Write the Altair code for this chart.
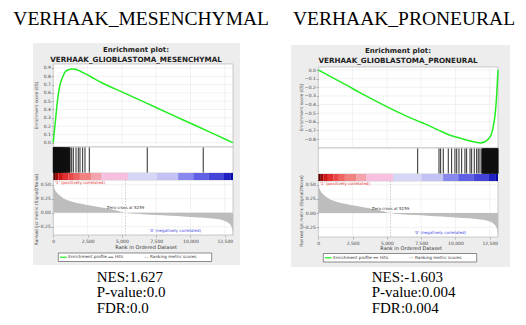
import altair as alt
import pandas as pd

# ---------------- data ----------------
HEADERS = ["VERHAAK_MESENCHYMAL", "VERHAAK_PRONEURAL"]
PLOT_TITLES = ["VERHAAK_GLIOBLASTOMA_MESENCHYMAL", "VERHAAK_GLIOBLASTOMA_PRONEURAL"]
STATS = [["NES:1.627", "P-value:0.0", "FDR:0.0"],
         ["NES:-1.603", "P-value:0.004", "FDR:0.004"]]

N_GENES = 13100
ZERO_CROSS = 5259

MES_RANK = [0, 30, 70, 124, 200, 280, 365, 480, 610, 730, 853, 1000, 1150, 1340, 1600,
            2000, 2675, 3500, 5000, 6800, 8500, 10000, 11500, 12500, 13100]
MES_ES = [0.0, 0.06, 0.13, 0.21, 0.34, 0.47, 0.58, 0.69, 0.76, 0.81, 0.85, 0.87, 0.882, 0.888,
          0.884, 0.858, 0.80, 0.725, 0.612, 0.476, 0.347, 0.234, 0.121, 0.045, 0.0]

PN_RANK = [0, 1000, 2000, 3000, 4130, 5500, 6500, 7245, 7770, 8800, 9500, 10450, 11000,
           11500, 11800, 12100, 12390, 12600, 12750, 12900, 13000, 13100]
PN_ES = [0.0, -0.085, -0.17, -0.26, -0.355, -0.465, -0.54, -0.59, -0.625, -0.70, -0.75, -0.795,
         -0.82, -0.837, -0.845, -0.835, -0.80, -0.75, -0.66, -0.50, -0.30, 0.0]

MES_HITS = [0, 12, 25, 38, 48, 60, 70, 82, 95, 105, 118, 128, 140, 150, 160, 170, 182, 195,
            205, 215, 225, 238, 250, 262, 275, 290, 305, 318, 330, 342, 355, 372, 385, 395,
            410, 425, 440, 452, 465, 478, 490, 503, 515, 528, 540, 555, 570, 585, 600, 612,
            625, 640, 655, 672, 690, 705, 720, 735, 750, 770, 790, 810, 830, 850, 870, 888,
            905, 928, 950, 970, 990, 1010, 1030, 1055, 1080, 1105, 1130, 1155, 1180, 1200, 1215,
            1340, 1460, 1655, 1820, 1945, 2140, 2310, 2625, 6850, 10930]
PN_HITS = [7245, 8800, 8920, 9110, 9475, 9720, 9960, 10090, 10255, 10450, 10690, 10815,
           11060, 11180, 11370, 11545, 11660, 11785, 11910, 11960, 11985, 12000, 12020, 12040,
           12060, 12075, 12095, 12110, 12130, 12150, 12170, 12185, 12205, 12220, 12240, 12260,
           12280, 12300, 12315, 12330, 12350, 12370, 12385, 12400, 12420, 12440, 12460, 12480,
           12495, 12510, 12530, 12550, 12570, 12590, 12605, 12620, 12640, 12660, 12680, 12700,
           12715, 12730, 12750, 12770, 12785, 12800, 12820, 12840, 12855, 12870, 12890, 12910,
           12925, 12940, 12960, 12980, 12995, 13010, 13025, 13040, 13055, 13070, 13085, 13095]

METRIC_RANK = [0, 40, 120, 250, 450, 730, 1200, 1950, 2800, 3600, 4400, 5259, 6000, 7000,
               8000, 9000, 10000, 11000, 11800, 12400, 12800, 13000, 13080, 13100]
METRIC_VAL = [0.58, 0.48, 0.41, 0.36, 0.31, 0.26, 0.21, 0.165, 0.125, 0.09, 0.055, 0.0,
              -0.02, -0.035, -0.045, -0.06, -0.075, -0.09, -0.11, -0.14, -0.19, -0.26,
              -0.35, -0.40]

BAR_START = [0, 180, 365, 700, 1090, 1500, 1940, 2790, 3520, 5460, 7530, 9100, 10200, 11300, 12390, 12900]
BAR_END = [180, 365, 700, 1090, 1500, 1940, 2790, 3520, 5460, 7530, 9100, 10200, 11300, 12390, 12900, 13100]

X_TICKS = [0, 2500, 5000, 7500, 10000, 12500]
MES_ES_TICKS = [0.0, 0.1, 0.2, 0.3, 0.4, 0.5, 0.6, 0.7, 0.8, 0.9]
PN_ES_TICKS = [0.0, -0.1, -0.2, -0.3, -0.4, -0.5, -0.6, -0.7, -0.8]
METRIC_TICKS = [0.5, 0.25, 0.0, -0.25]

# ---------------- styles / layout ----------------
BAR_COLORS = ["#5c0000", "#a00808", "#cc1818", "#e23030", "#ea4848", "#ee6262", "#f08282",
              "#f4a2ac", "#f6c0de", "#d6d6f6", "#c2c2f4", "#8888ee", "#6060e6", "#4444d8",
              "#2020c4", "#0606a8"]
GREEN = "#22ee22"
SANS = "DejaVu Sans"
SERIF = "Liberation Serif"

W, H = 510, 309
OFF = 8.0


def P(v):
    return v - OFF


def V(v):
    return alt.value(P(v))


PANELS = [
    dict(bg=(33, 43, 240, 265), x0=53.3, x1=233.0,
         es=(64, 147), es_dom=(-0.052, 0.948), es_ticks=MES_ES_TICKS,
         hits=(147, 173), bar=(173, 180),
         met=(180, 235), met_dom=(-0.398, 0.584),
         title_x=136, title_y=(49.5, 59.5), ytitle_x=37, xtitle_y=246.5,
         legend=(58.3, 253, 211.7, 261.5),
         rank=MES_RANK, es_val=MES_ES, hits_list=MES_HITS,
         header_x=13.3, stats_x=96.7),
    dict(bg=(291, 45, 510, 267), x0=318.3, x1=498.0,
         es=(67, 148), es_dom=(-0.904, 0.035), es_ticks=PN_ES_TICKS,
         hits=(148, 174), bar=(174, 181),
         met=(181, 237), met_dom=(-0.42, 0.565),
         title_x=398, title_y=(50.5, 60.5), ytitle_x=302, xtitle_y=248,
         legend=(323.3, 253.5, 476.7, 262),
         rank=PN_RANK, es_val=PN_ES, hits_list=PN_HITS,
         header_x=293, stats_x=371.7),
]

AX = dict(labelFontSize=4.5, labelFont=SANS, labelColor="#444", tickSize=2,
          tickColor="#777", tickWidth=0.5, domain=False, grid=False, labelPadding=1,
          labelOverlap=False, labelFlush=False, zindex=1, title=None)

ONE = pd.DataFrame({"k": [0]})


def text_layer(text, x, y, size, color="#000", font=SANS, weight="normal",
               align="center", baseline="middle", angle=None):
    kw = dict(text=text, fontSize=size, color=color, font=font, fontWeight=weight,
              align=align, baseline=baseline)
    if angle is not None:
        kw["angle"] = angle
    return alt.Chart(ONE).mark_text(**kw).encode(x=V(x), y=V(y))


def box(x0, y0, x1, y1, fill, stroke=None, sw=0.5):
    kw = dict(fill=fill)
    if stroke:
        kw.update(stroke=stroke, strokeWidth=sw)
    return alt.Chart(ONE).mark_rect(**kw).encode(x=V(x0), x2=V(x1), y=V(y0), y2=V(y1))


def hline(x0, x1, y, color, sw):
    return alt.Chart(ONE).mark_rule(color=color, strokeWidth=sw).encode(
        x=V(x0), x2=V(x1), y=V(y))


layers = []

for i, p in enumerate(PANELS):
    xs = alt.Scale(domain=[0, N_GENES], range=[P(p["x0"]), P(p["x1"])], nice=False, zero=False)
    es_y = alt.Scale(domain=list(p["es_dom"]), range=[P(p["es"][1]), P(p["es"][0])],
                     nice=False, zero=False)
    met_y = alt.Scale(domain=list(p["met_dom"]), range=[P(p["met"][1]), P(p["met"][0])],
                      nice=False, zero=False)
    x0, x1 = p["x0"], p["x1"]

    # header above and stats below (document text)
    layers.append(text_layer(HEADERS[i], p["header_x"], 25, 19.5, font=SERIF,
                             align="left", baseline="alphabetic"))
    for j, line in enumerate(STATS[i]):
        layers.append(text_layer(line, p["stats_x"], 281.5 + 15.5 * j, 15, font=SERIF,
                                 align="left", baseline="alphabetic"))

    # gray background
    bx0, by0, bx1, by1 = p["bg"]
    layers.append(box(bx0, by0, bx1, by1, "#ededed"))

    # panel frames
    layers.append(box(x0, p["es"][0], x1, p["es"][1], "#ffffff", "#9a9a9a"))
    layers.append(box(x0, p["hits"][0], x1, p["hits"][1], "#ffffff", "#9a9a9a"))
    layers.append(box(x0, p["met"][0], x1, p["met"][1], "#ffffff", "#9a9a9a"))

    # gridlines ES panel
    xt = pd.DataFrame({"r": X_TICKS[1:]})
    layers.append(alt.Chart(xt).mark_rule(color="#e4e4e4", strokeWidth=0.5).encode(
        x=alt.X("r:Q", scale=xs, axis=None), y=V(p["es"][0]), y2=V(p["es"][1])))
    et = pd.DataFrame({"v": p["es_ticks"]})
    layers.append(alt.Chart(et).mark_rule(color="#e4e4e4", strokeWidth=0.5).encode(
        y=alt.Y("v:Q", scale=es_y, axis=None), x=V(x0), x2=V(x1)))
    # gridlines metric panel
    layers.append(alt.Chart(xt).mark_rule(color="#e4e4e4", strokeWidth=0.5).encode(
        x=alt.X("r:Q", scale=xs, axis=None), y=V(p["met"][0]), y2=V(p["met"][1])))
    mt = pd.DataFrame({"v": METRIC_TICKS})
    layers.append(alt.Chart(mt).mark_rule(color="#e4e4e4", strokeWidth=0.5).encode(
        y=alt.Y("v:Q", scale=met_y, axis=None), x=V(x0), x2=V(x1)))

    # metric area with axes
    md = pd.DataFrame({"r": METRIC_RANK, "v": METRIC_VAL})
    layers.append(alt.Chart(md).mark_area(color="#bdbdbd", interpolate="monotone").encode(
        x=alt.X("r:Q", scale=xs,
                axis=alt.Axis(orient="bottom", offset=P(p["met"][1]) - H,
                              values=X_TICKS, format=",d", **AX)),
        y=alt.Y("v:Q", scale=met_y, stack=False,
                axis=alt.Axis(orient="left", offset=-P(x0), values=METRIC_TICKS,
                              format=".2f", **AX)),
        y2=alt.datum(0)))

    # zero-cross dashed line
    zc = pd.DataFrame({"r": [ZERO_CROSS]})
    layers.append(alt.Chart(zc).mark_rule(color="#999", strokeWidth=0.5,
                                          strokeDash=[1.5, 1.5]).encode(
        x=alt.X("r:Q", scale=xs, axis=None), y=V(p["met"][0]), y2=V(p["met"][1])))
    layers.append(alt.Chart(zc).mark_text(text="Zero cross at 5259", fontSize=4, font=SANS,
                                          color="#333", baseline="middle").encode(
        x=alt.X("r:Q", scale=xs, axis=None),
        y=V(p["met"][0] + 27.5)))

    # correlation labels
    layers.append(text_layer("'1' (positively correlated)", x0 + 1.7, p["met"][0] + 2.5, 4,
                             color="#e83030", align="left"))
    layers.append(text_layer("'0' (negatively correlated)", x0 + 122, p["met"][1] - 4.5, 4,
                             color="#4040e0"))

    # ES curve with y axis
    ed = pd.DataFrame({"r": p["rank"], "v": p["es_val"]})
    layers.append(alt.Chart(ed).mark_line(color=GREEN, strokeWidth=1.5,
                                          interpolate="monotone").encode(
        x=alt.X("r:Q", scale=xs, axis=None),
        y=alt.Y("v:Q", scale=es_y,
                axis=alt.Axis(orient="left", offset=-P(x0), values=p["es_ticks"],
                              format=".1f", **AX))))

    # hits
    hd = pd.DataFrame({"r": p["hits_list"]})
    layers.append(alt.Chart(hd).mark_rule(color="#111", strokeWidth=0.9).encode(
        x=alt.X("r:Q", scale=xs, axis=None), y=V(p["hits"][0] + 0.5), y2=V(p["hits"][1] - 0.5)))

    # color bar
    bd = pd.DataFrame({"s": BAR_START, "e": BAR_END, "k": list(range(len(BAR_START)))})
    layers.append(alt.Chart(bd).mark_rect().encode(
        x=alt.X("s:Q", scale=xs, axis=None), x2="e:Q",
        y=V(p["bar"][0]), y2=V(p["bar"][1]),
        color=alt.Color("k:O", scale=alt.Scale(domain=list(range(len(BAR_START))),
                                               range=BAR_COLORS), legend=None)))

    # titles
    layers.append(text_layer("Enrichment plot:", p["title_x"], p["title_y"][0], 7,
                             color="#222", weight="bold"))
    layers.append(text_layer(PLOT_TITLES[i], p["title_x"], p["title_y"][1], 7.2,
                             color="#222", weight="bold"))
    layers.append(text_layer("Enrichment score (ES)", p["ytitle_x"],
                             (p["es"][0] + p["es"][1]) / 2, 4.3, color="#444", angle=270))
    layers.append(text_layer("Ranked list metric (Signal2Noise)", p["ytitle_x"],
                             (p["met"][0] + p["met"][1]) / 2 + 2, 4.3, color="#444", angle=270))
    layers.append(text_layer("Rank in Ordered Dataset", (x0 + x1) / 2 + 3, p["xtitle_y"], 5,
                             color="#333"))

    # legend box
    lx0, ly0, lx1, ly1 = p["legend"]
    ly = (ly0 + ly1) / 2
    layers.append(box(lx0, ly0, lx1, ly1, "#ffffff", "#444", 0.6))
    layers.append(hline(lx0 + 1.7, lx0 + 8.4, ly, GREEN, 1.2))
    layers.append(text_layer("Enrichment profile", lx0 + 10, ly, 4.2, color="#333", align="left"))
    layers.append(hline(lx0 + 50, lx0 + 55, ly, "#222", 0.7))
    layers.append(text_layer("Hits", lx0 + 56.7, ly, 4.2, color="#333", align="left"))
    layers.append(hline(lx0 + 86, lx0 + 90, ly, "#bbbbbb", 0.7))
    layers.append(text_layer("Ranking metric scores", lx0 + 91.7, ly, 4.2, color="#333",
                             align="left"))

chart = alt.layer(*layers).resolve_scale(
    x="independent", y="independent", color="independent"
).properties(
    width=W, height=H, padding=0,
    autosize=alt.AutoSizeParams(type="none"),
    background="white",
).configure_view(strokeWidth=0)

chart.save("out.html", embed_options={"renderer": "svg", "actions": False})
